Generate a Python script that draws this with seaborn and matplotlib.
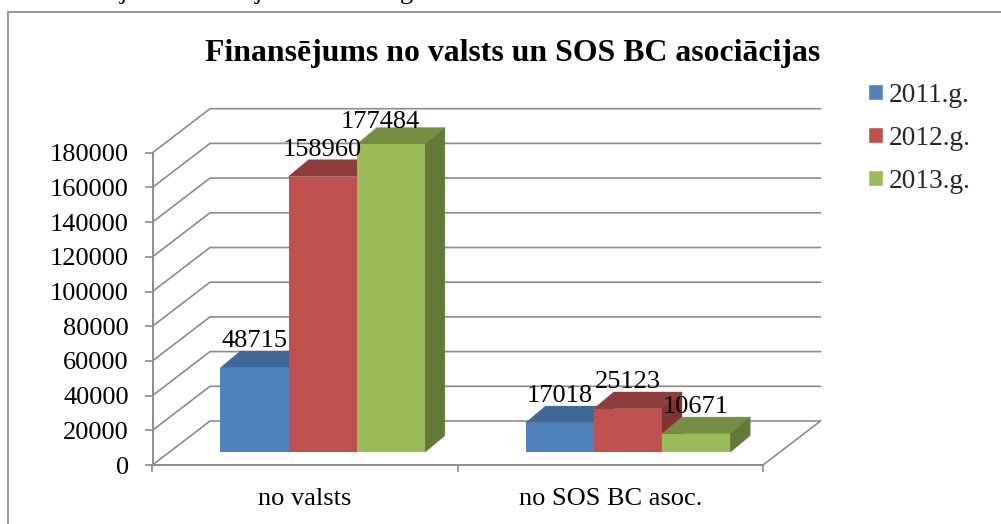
import matplotlib
matplotlib.use("Agg")
import matplotlib.pyplot as plt
import pandas as pd
import seaborn as sns
from matplotlib.lines import Line2D
from matplotlib.patches import Polygon

categories = ["no valsts", "no SOS BC asoc."]
years = ["2011.g.", "2012.g.", "2013.g."]
values_2011 = [48715, 17018]
values_2012 = [158960, 25123]
values_2013 = [177484, 10671]
title = "Finansējums no valsts un SOS BC asociācijas"
y_ticks = list(range(0, 180001, 20000))

palette = ["#4F81BD", "#C0504D", "#9BBB59"]
top_cols = ["#3F6797", "#8F3D3B", "#768E44"]
side_cols = ["#2F4D71", "#7F3432", "#637839"]
GRID = "#8C8C8C"
FS = 19

W, H = 1001, 524
X0, X1, Y0, Y1 = 152.5, 763.0, 465.0, 152.7

df = pd.DataFrame({
    "cat": categories * 3,
    "year": [y for y in years for _ in categories],
    "val": values_2011 + values_2012 + values_2013,
})

sns.set_theme(style="white")
plt.rcParams["font.family"] = ["Liberation Serif", "DejaVu Serif"]

fig = plt.figure(figsize=(W / 100, H / 100), dpi=100)
ax = fig.add_axes([X0 / W, 1 - Y0 / H, (X1 - X0) / W, (Y0 - Y1) / H])
sns.barplot(data=df, x="cat", y="val", hue="year", order=categories, hue_order=years,
            palette=palette, width=0.67, gap=0, saturation=1, ax=ax, errorbar=None)
ax.set_xlim(-0.5, 1.5)
ax.set_ylim(0, 180000)
ax.set_xlabel("")
ax.set_ylabel("")


def px(dx, dy):
    """Pixel offset to data offset."""
    return dx * 2 / (X1 - X0), dy * 180000 / (Y0 - Y1)


# walls and floor
wx, wy = px(57.5, 44)
for t in y_ticks:
    ax.plot([-0.5, -0.5 + wx, 1.5 + wx], [t, t + wy, t + wy], color=GRID, lw=1.2,
            clip_on=False, zorder=1, solid_joinstyle="miter")
ax.plot([1.5, 1.5 + wx], [0, wy], color=GRID, lw=1.2, clip_on=False, zorder=1)

# 3D faces of the bars
bx, by = px(17.5, 12.7)
dx, dy = px(20, 16.7)
labels_nudge = {(0, 2): (-11, -4)}
z = 3
for s, container in enumerate(ax.containers):
    for c, bar in enumerate(container):
        x0 = bar.get_x() + bx
        x1 = x0 + bar.get_width()
        v = bar.get_height()
        bar.set_x(x0)
        bar.set_y(by)
        bar.set_clip_on(False)
        bar.set_linewidth(0)
        top = by + v
        ax.add_patch(Polygon([(x0, top), (x1, top), (x1 + dx, top + dy), (x0 + dx, top + dy)],
                             closed=True, fc=top_cols[s], ec=top_cols[s], lw=0.3,
                             clip_on=False, zorder=z))
        ax.add_patch(Polygon([(x1, by), (x1, top), (x1 + dx, top + dy), (x1 + dx, by + dy)],
                             closed=True, fc=side_cols[s], ec=side_cols[s], lw=0.3,
                             clip_on=False, zorder=z))
        bar.set_zorder(z + 0.5)
        nx, ny = labels_nudge.get((c, s), (0, 0))
        ax.annotate(f"{int(v)}", ((x0 + x1) / 2, top), xytext=(nx, 26.5 + ny),
                    textcoords="offset pixels", ha="center", va="center",
                    fontsize=FS, color="black", zorder=20, annotation_clip=False)
        z += 1

# axes styling
sns.despine(ax=ax)
for name in ("left", "bottom"):
    ax.spines[name].set_color(GRID)
    ax.spines[name].set_linewidth(1.4)
    ax.spines[name].set_zorder(2)
ax.set_yticks(y_ticks)
ax.set_yticklabels([str(t) for t in y_ticks], fontsize=FS, color="black")
ax.tick_params(axis="y", left=True, length=6, width=1.2, color=GRID, pad=11)
ax.set_xticks([-0.5, 0.5, 1.5])
ax.set_xticklabels(["", "", ""])
ax.set_xticks([0, 1], minor=True)
ax.set_xticklabels(categories, minor=True, fontsize=FS, color="black")
ax.tick_params(axis="x", which="major", bottom=True, length=5, width=1.2, color=GRID)
ax.tick_params(axis="x", which="minor", bottom=False, length=0, pad=16.5)

# legend
handles, leg_labels = ax.get_legend_handles_labels()
ax.legend(handles, leg_labels, loc="upper left", bbox_to_anchor=(867.5 / W, 1 - 83 / H),
          bbox_transform=fig.transFigure, frameon=False, fontsize=19.7,
          handlelength=0.58, handleheight=0.51, handletextpad=0.18,
          labelspacing=0.65, borderpad=0, borderaxespad=0)

fig.text(512.5 / W, 1 - 54 / H, title, ha="center", va="center", fontsize=22.9,
         fontweight="bold", color="black")

# descenders of the text line cropped by the top edge of the page
for ch, xp in (("j", 123), ("j", 258), ("g", 406)):
    fig.text(xp / W, 1 + 1 / H, ch, ha="center", va="baseline", fontsize=FS, color="black")

# chart frame
for xs, ys in (([7.5, 7.5], [H, 12]), ([7.5, W], [12, 12])):
    fig.add_artist(Line2D([x / W for x in xs], [1 - y / H for y in ys], color=GRID, lw=1.3))

fig.savefig("out.png", dpi=100)
